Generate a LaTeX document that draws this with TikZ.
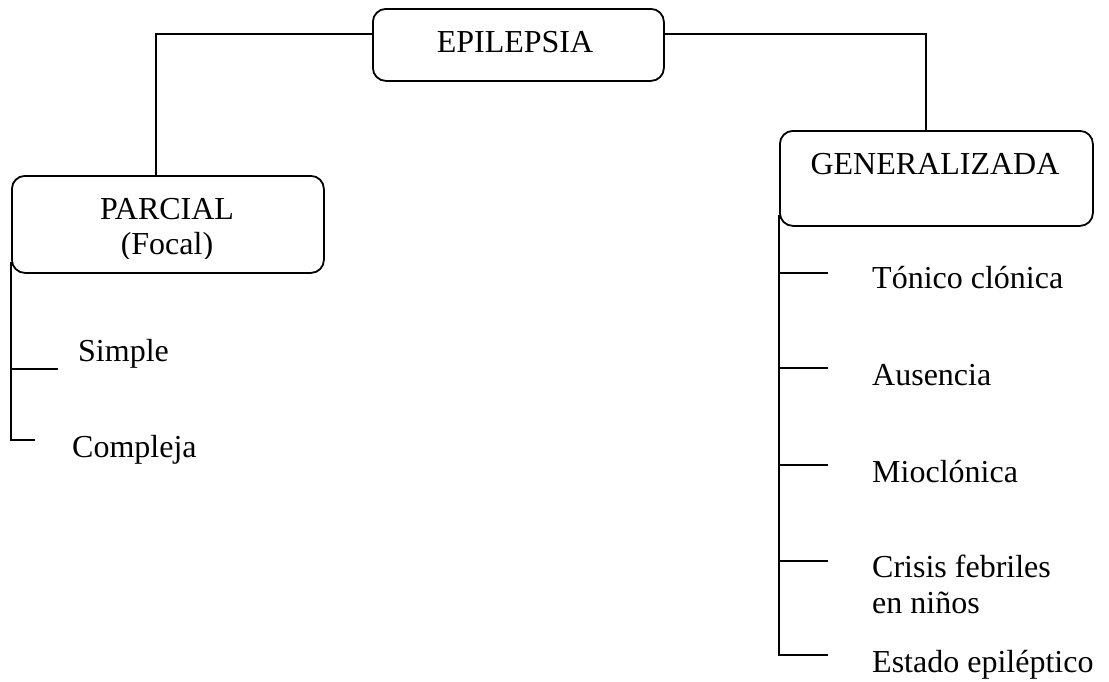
\documentclass[tikz,border=0pt]{standalone}
\usepackage{fontspec}
\setmainfont{Liberation Serif}
\begin{document}
\begin{tikzpicture}[x=1pt,y=-1pt,
  box/.style={draw, line width=1.8pt, rounded corners=13pt, inner sep=0pt, anchor=north west},
  conn/.style={line width=1.8pt},
  txt/.style={font=\fontsize{32}{37}\selectfont, inner sep=0pt}]
\useasboundingbox (0,0) rectangle (1109,681);
% boxes
\node[box, minimum width=291pt, minimum height=72pt] (epi) at (372,8) {};
\node[box, minimum width=312pt, minimum height=97pt] (parcial) at (11,175) {};
\node[box, minimum width=313pt, minimum height=95pt] (gen) at (779,130) {};
% box texts
\node[txt, anchor=base] (tepi) at (515,52) {EPILEPSIA};
\node[txt, anchor=base] (tpar) at (167,219) {PARCIAL};
\begin{scope}
\clip (0,0) rectangle (1109,258.5);
\node[txt, anchor=base] (tfoc) at (167,254) {(Focal)};
\end{scope}
\node[txt, anchor=base] (tgen) at (935,174) {GENERALIZADA};
% top connectors
\draw[conn] ([yshift=11pt]epi.west) -| ([xshift=-12pt]parcial.north);
\draw[conn] ([yshift=11pt]epi.east) -| ([xshift=-10.5pt]gen.north);
% left branch
\coordinate (l1) at (11,369);
\coordinate (l1e) at (58,369);
\coordinate (l2) at (11,440);
\coordinate (l2e) at (35,440);
\draw[conn] ([yshift=12pt]parcial.south west) -- (l2) -- (l2e);
\draw[conn] (l1) -- (l1e);
\node[txt, anchor=base west] (simple) at (78,361) {Simple};
\node[txt, anchor=base west] (compleja) at (72,457) {Compleja};
% right branch
\coordinate (r1) at (779,273);
\coordinate (r1e) at (828,273);
\coordinate (r2) at (779,368);
\coordinate (r2e) at (828,368);
\coordinate (r3) at (779,465);
\coordinate (r3e) at (828,465);
\coordinate (r4) at (779,561);
\coordinate (r4e) at (828,561);
\coordinate (r5) at (779,655);
\coordinate (r5e) at (828,655);
\draw[conn] ([yshift=12pt]gen.south west) -- (r5) -- (r5e);
\draw[conn] (r1) -- (r1e);
\draw[conn] (r2) -- (r2e);
\draw[conn] (r3) -- (r3e);
\draw[conn] (r4) -- (r4e);
\node[txt, anchor=base west] (tonico) at (872,288) {Tónico clónica};
\node[txt, anchor=base west] (ausencia) at (872,385) {Ausencia};
\node[txt, anchor=base west] (mioclonica) at (872,482) {Mioclónica};
\node[txt, anchor=base west] (crisis) at (872,577) {Crisis febriles};
\node[txt, anchor=base west] (ninos) at (872,613) {en niños};
\node[txt, anchor=base west] (estado) at (872,672) {Estado epiléptico};
\end{tikzpicture}
\end{document}
